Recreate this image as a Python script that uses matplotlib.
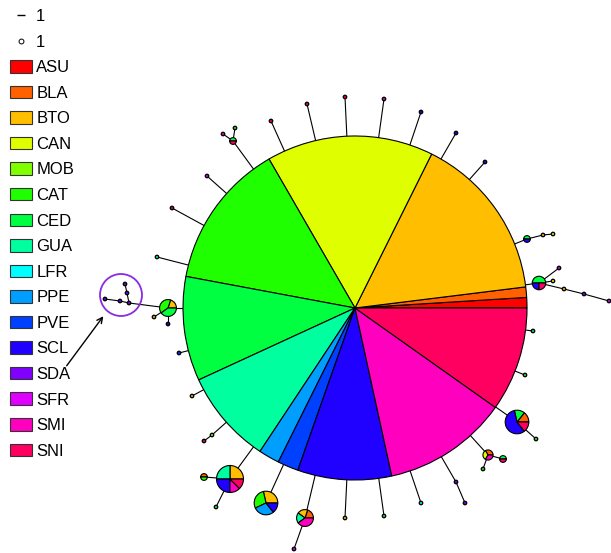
import matplotlib.pyplot as plt
from matplotlib.patches import Patch, Circle
from matplotlib.lines import Line2D

plt.rcParams['font.family'] = ['Liberation Sans', 'DejaVu Sans']

pops = ["ASU", "BLA", "BTO", "CAN", "MOB", "CAT", "CED", "GUA",
        "LFR", "PPE", "PVE", "SCL", "SDA", "SFR", "SMI", "SNI"]
pop_colors = ["#FF0000", "#FF6000", "#FFBF00", "#DFFF00", "#80FF00", "#20FF00",
              "#00FF40", "#00FF9F", "#00FFFF", "#009FFF", "#0040FF", "#2000FF",
              "#8000FF", "#DF00FF", "#FF00BF", "#FF0060"]

# haplotype counts per population
hap_freq = {
    "H1": {"ASU": 1, "BLA": 1, "BTO": 16, "CAN": 16, "CAT": 14, "CED": 10,
           "GUA": 9, "PPE": 2, "PVE": 2, "SCL": 9, "SMI": 12, "SNI": 10},
    "H2": {"SFR": 1},
    "H3": {"CED": 1, "SNI": 1},
    "H4": {"SMI": 1},
    "H5": {"CAT": 1},
    "H6": {"SNI": 1},
    "H7": {"SNI": 1},
    "H8": {"SNI": 1},
    "H9": {"SMI": 1},
    "H10": {"SCL": 1},
    "H11": {"SCL": 1},
    "H12": {"SCL": 1},
    "H13": {"CED": 1, "SCL": 1},
    "H14": {"BTO": 1},
    "H15": {"CAN": 1},
    "H16": {"CED": 2, "SCL": 1, "SNI": 1},
    "H17": {"SFR": 1},
    "H18": {"CAN": 1},
    "H19": {"BTO": 1},
    "H20": {"SDA": 1},
    "H21": {"SFR": 1},
    "H22": {"CED": 1},
    "H23": {"CAT": 1},
    "H24": {"BLA": 1, "CED": 1, "SCL": 4, "SNI": 1},
    "H25": {"CAT": 1},
    "H26": {"BLA": 1, "CAN": 1, "SMI": 1},
    "H27": {"CED": 1, "SNI": 1},
    "H28": {"CAT": 1},
    "H29": {"SDA": 1},
    "H30": {"SDA": 1},
    "H31": {"LFR": 1},
    "H32": {"CED": 1},
    "H33": {"BTO": 1},
    "H34": {"BLA": 1, "BTO": 1, "GUA": 1, "SMI": 2},
    "H35": {"SFR": 1},
    "H36": {"BTO": 2, "CAT": 2, "PPE": 2, "SCL": 1},
    "H37": {"BTO": 2, "GUA": 2, "SCL": 2, "SMI": 1, "SNI": 1},
    "H38": {"BLA": 1, "CAT": 1},
    "H39": {"CED": 1},
    "H40": {"MOB": 1},
    "H41": {"SNI": 1},
    "H42": {"BTO": 1},
    "H43": {"PVE": 1},
    "H44": {"BTO": 1, "CAT": 2, "CED": 2},
    "H45": {"BTO": 1},
    "H46": {"SCL": 1},
    "H47": {"SDA": 1},
    "H48": {"SDA": 1},
    "H49": {"SDA": 1},
    "H50": {"SDA": 1},
    "H51": {"SDA": 1},
    "H52": {"GUA": 1},
    "H53": {"SNI": 1},
}

# network layout (hub at the origin)
hap_xy = {
    "H1": (0, 0), "H2": (-148, 132), "H3": (-122, 167), "H4": (-132, 174),
    "H5": (-120, 180), "H6": (-84, 187), "H7": (-48, 204), "H8": (-10, 211),
    "H9": (29, 209), "H10": (66, 196), "H11": (101, 175), "H12": (130, 146),
    "H13": (172, 69), "H14": (188, 73), "H15": (198, 74), "H16": (184, 25),
    "H17": (204, 40), "H18": (198, 27), "H19": (209, 19), "H20": (229, 14),
    "H21": (254, 7), "H22": (178, -23), "H23": (170, -67), "H24": (162, -114),
    "H25": (181, -131), "H26": (133, -147), "H27": (148, -151), "H28": (128, -161),
    "H29": (110, -195), "H30": (101, -174), "H31": (66, -195), "H32": (29, -208),
    "H33": (-10, -210), "H34": (-50, -210), "H35": (-61, -241), "H36": (-89, -195),
    "H37": (-125, -171), "H38": (-151, -169), "H39": (-139, -199), "H40": (-143, -127),
    "H41": (-151, -133), "H42": (-163, -88), "H43": (-176, -45), "H44": (-187, 0),
    "H45": (-201, -9), "H46": (-187, -16), "H47": (-226, 5), "H48": (-235, 7),
    "H49": (-250, 9), "H50": (-228, 15), "H51": (-230, 24), "H52": (-198, 51),
    "H53": (-183, 100),
}

# links that do not start at the hub
side_links = [("H3", "H4"), ("H3", "H5"), ("H13", "H14"), ("H14", "H15"),
              ("H16", "H17"), ("H16", "H18"), ("H16", "H19"), ("H19", "H20"),
              ("H20", "H21"), ("H24", "H25"), ("H26", "H27"), ("H26", "H28"),
              ("H30", "H29"), ("H34", "H35"), ("H37", "H38"), ("H37", "H39"),
              ("H40", "H41"), ("H44", "H45"), ("H44", "H46"), ("H44", "H47"),
              ("H47", "H48"), ("H48", "H49"), ("H47", "H50"), ("H50", "H51")]
child_nodes = {b for a, b in side_links}
links = [("H1", h) for h in hap_xy if h != "H1" and h not in child_nodes] + side_links

scale = 172 / 102  # node radius per individual

fig = plt.figure(figsize=(6.11, 5.53), dpi=100)
ax = fig.add_axes([0, 0, 1, 1])

for a, b in links:
    (xa, ya), (xb, yb) = hap_xy[a], hap_xy[b]
    ax.plot([xa, xb], [ya, yb], color='black', lw=0.8, zorder=1)

for h, freq in hap_freq.items():
    vals = [freq.get(p, 0) for p in pops]
    keep = [i for i, v in enumerate(vals) if v > 0]
    n = sum(vals)
    ax.pie([vals[i] for i in keep], colors=[pop_colors[i] for i in keep],
           center=hap_xy[h], radius=scale * n, startangle=0, counterclock=True,
           frame=True,
           wedgeprops=dict(edgecolor='black', linewidth=0.8 if n > 1 else 1.0,
                           zorder=3))

# highlighted group of SDA haplotypes
ax.add_patch(Circle((-234, 13), 21, fill=False, edgecolor='#8A2BE2', lw=1.3, zorder=4))
ax.annotate("", xy=(-250, -6), xytext=(-290, -60),
            arrowprops=dict(arrowstyle='->', color='black', lw=1))

ax.set_xlim(-355, 256)
ax.set_ylim(-245, 308)
ax.set_aspect('equal')
ax.axis('off')

handles = [Line2D([], [], ls='none', marker='_', markersize=6, color='black', mew=1),
           Line2D([], [], ls='none', marker='o', markersize=3.5, mfc='white',
                  mec='black', mew=0.7)]
handles += [Patch(facecolor=c, edgecolor='#333333', lw=0.8) for c in pop_colors]
labels = ["1", "1"] + pops
fig.legend(handles, labels, loc='upper left', bbox_to_anchor=(10 / 611, 1 - 9 / 553),
           frameon=False, fontsize=12, handlelength=1.32, handleheight=0.78,
           handletextpad=0.25, labelspacing=0.63, borderpad=0, borderaxespad=0)

fig.savefig("out.png", dpi=100)
